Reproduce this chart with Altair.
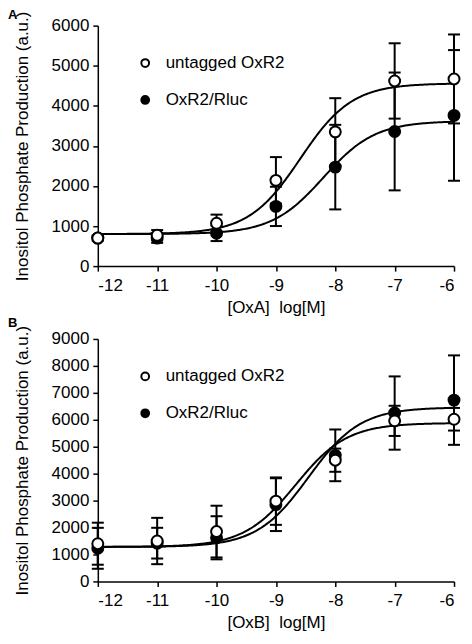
import altair as alt
import pandas as pd

# ---- data ----
log_conc = [-12, -11, -10, -9, -8, -7, -6]
series = ["untagged OxR2", "OxR2/Rluc"]

oxa_untagged = [700, 770, 1070, 2140, 3350, 4620, 4670]
oxa_untagged_err = [60, 130, 215, 580, 840, 940, 1110]
oxa_rluc = [700, 700, 820, 1490, 2470, 3360, 3760]
oxa_rluc_err = [60, 120, 195, 490, 1055, 1470, 1630]

oxb_untagged = [1400, 1500, 1850, 2980, 4500, 5960, 6020]
oxb_untagged_err = [780, 860, 960, 880, 430, 560, 420]
oxb_rluc = [1230, 1420, 1620, 2850, 4680, 6250, 6730]
oxb_rluc_err = [760, 570, 800, 980, 960, 1360, 1660]

# four-parameter logistic fits: bottom, top, logEC50, hill slope
fit_oxa_untagged = [800, 4560, -8.59, 1.0]
fit_oxa_rluc = [800, 3620, -8.20, 1.0]
fit_oxb_untagged = [1280, 5880, -8.67, 1.0]
fit_oxb_rluc = [1280, 6460, -8.45, 1.0]

FONT = "Liberation Sans"
FS = 17
PLOT_W = 357
YTITLE = "Inositol Phosphate Production (a.u.)"


def points_df(untagged, untagged_err, rluc, rluc_err):
    rows = []
    for x, v, e in zip(log_conc, rluc, rluc_err):
        rows.append(dict(x=x, y=v, lo=v - e, hi=v + e, series=series[1]))
    for x, v, e in zip(log_conc, untagged, untagged_err):
        rows.append(dict(x=x, y=v, lo=v - e, hi=v + e, series=series[0]))
    return pd.DataFrame(rows)


def fit_expr(p):
    b, t, ec, h = p
    return f"{b} + ({t} - {b}) / (1 + pow(10, ({ec} - datum.x) * {h}))"


def panel(label, df, fit_u, fit_r, ymax, xtitle, height, label_y):
    xs = alt.Scale(domain=[-12, -6], nice=False, zero=False, padding=0)
    ys = alt.Scale(domain=[0, ymax], nice=False, zero=False, padding=0)
    xaxis = alt.Axis(values=log_conc, labelExpr="'' + datum.value", labelOverlap=False)
    yaxis = alt.Axis(values=list(range(0, ymax + 1, 1000)), format="d", labelOverlap=False)
    X = lambda f: alt.X(f, scale=xs, axis=xaxis, title=xtitle)
    Y = lambda f: alt.Y(f, scale=ys, axis=yaxis, title=YTITLE)
    base = alt.Chart(df)
    bars = base.mark_rule(color="black", strokeWidth=2).encode(
        x=X("x:Q"), y=Y("lo:Q"), y2="hi:Q")
    cap = "M-1,0L1,0"
    cap_lo = base.mark_point(shape=cap, size=144, stroke="black", strokeWidth=2,
                             filled=False, opacity=1).encode(x=X("x:Q"), y=Y("lo:Q"))
    cap_hi = base.mark_point(shape=cap, size=144, stroke="black", strokeWidth=2,
                             filled=False, opacity=1).encode(x=X("x:Q"), y=Y("hi:Q"))
    curves = (
        alt.Chart(alt.sequence(-12, -5.999, 0.02, as_="x"))
        .transform_calculate(u=fit_expr(fit_u), r=fit_expr(fit_r))
        .transform_fold(["u", "r"], as_=["k", "v"])
        .mark_line(color="black", strokeWidth=2, clip=True)
        .encode(x=X("x:Q"), y=Y("v:Q"), detail="k:N")
    )
    pts = base.mark_point(shape="circle", filled=True, size=120, stroke="black",
                          strokeWidth=2, opacity=1).encode(
        x=X("x:Q"), y=Y("y:Q"),
        fill=alt.Fill("series:N", sort=series,
                      scale=alt.Scale(domain=series, range=["white", "black"]),
                      legend=alt.Legend(orient="none", legendX=39, legendY=29, title=None,
                                        padding=0, symbolType="circle", symbolSize=60,
                                        symbolStrokeColor="black", symbolStrokeWidth=2,
                                        labelFontSize=FS, labelFont=FONT, labelColor="black",
                                        labelOffset=12, rowPadding=19)),
    )
    lab = alt.Chart(pd.DataFrame({"t": [label]})).mark_text(
        fontWeight="bold", fontSize=13, font=FONT, align="left", baseline="top", color="black"
    ).encode(text="t:N", x=alt.value(-90), y=alt.value(label_y))
    return alt.layer(bars, cap_lo, cap_hi, curves, pts, lab).properties(
        width=PLOT_W, height=height)


pa = panel("A", points_df(oxa_untagged, oxa_untagged_err, oxa_rluc, oxa_rluc_err),
           fit_oxa_untagged, fit_oxa_rluc, 6000, "[OxA]\u00a0 log[M]", 241, -17)
pb = panel("B", points_df(oxb_untagged, oxb_untagged_err, oxb_rluc, oxb_rluc_err),
           fit_oxb_untagged, fit_oxb_rluc, 9000, "[OxB]\u00a0 log[M]", 243, -22)

chart = (
    alt.vconcat(pa, pb, spacing=2)
    .resolve_legend(fill="independent")
    .resolve_scale(y="independent", fill="independent")
    .properties(padding=0)
    .configure_view(stroke=None)
    .configure_scale(continuousPadding=0)
    .configure_axis(
        grid=False, domainColor="black", domainWidth=1.5, tickColor="black", tickWidth=1.5,
        tickSize=5, labelColor="black", titleColor="black", labelFont=FONT, titleFont=FONT,
        labelFontSize=FS, titleFontSize=FS, titleFontWeight="normal",
    )
    .configure_axisX(labelPadding=6, titlePadding=6)
    .configure_axisY(labelPadding=4, titlePadding=20)
)

chart.save("out.html", embed_options={"renderer": "svg", "actions": False})
